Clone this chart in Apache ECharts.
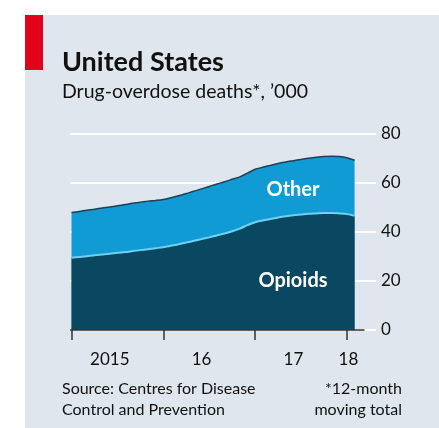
<!DOCTYPE html>
<html>
<head>
<meta charset="utf-8">
<title>United States drug-overdose deaths</title>
<script src="https://cdn.jsdelivr.net/npm/echarts@6/dist/echarts.min.js"></script>
<style>
  html, body { margin: 0; padding: 0; background: #ffffff; }
  #chart { width: 439px; height: 428px; }
</style>
</head>
<body>
<div id="chart"></div>
<script>
// months counted from Jan 2015 (0) to Feb 2018 (37), 12-month moving totals, '000
const months = [
  0, 1, 2, 3, 4, 5, 6, 7, 8, 9, 10, 11,
  12, 13, 14, 15, 16, 17, 18, 19, 20, 21, 22, 23,
  24, 25, 26, 27, 28, 29, 30, 31, 32, 33, 34, 35,
  36, 37
]
const opioids = [
  29.5, 29.8, 30.1, 30.5, 30.8, 31.1, 31.5, 31.8, 32.2, 32.6, 33.0, 33.4,
  33.8, 34.4, 35.0, 35.7, 36.4, 37.1, 37.8, 38.6, 39.4, 40.3, 41.4, 42.8,
  44.0, 44.7, 45.3, 45.9, 46.4, 46.8, 47.1, 47.4, 47.6, 47.8, 47.8, 47.6,
  47.3, 46.6
]
const other = [
  18.5, 18.6, 18.8, 18.8, 19.0, 19.1, 19.2, 19.4, 19.5, 19.5, 19.6, 19.5,
  19.5, 19.6, 19.8, 20.0, 20.2, 20.5, 20.8, 21.0, 21.1, 21.2, 21.1, 21.2,
  21.6, 21.7, 21.9, 22.1, 22.2, 22.3, 22.5, 22.7, 22.9, 23.0, 23.1, 23.2,
  23.0, 22.7
]
const yearTicks = [0, 12, 24, 36]
const yearLabelPos = [5, 17, 29, 36.2]
const yearLabels = ['2015', '16', '17', '18']

const font = 'Lato, "DejaVu Sans", sans-serif'
const chart = echarts.init(document.getElementById('chart'))

// "Other" sits on top of opioids: its upper edge is the sum of both
const opioidPairs = opioids.map((v, i) => [months[i], v])
const totalPairs = other.map((v, i) => [months[i], +(v + opioids[i]).toFixed(1)])

const option = {
  animation: false,
  backgroundColor: '#ffffff',
  textStyle: { fontFamily: font },
  graphic: [
    { type: 'rect', z: -10, shape: { x: 25, y: 15, width: 414, height: 413 }, style: { fill: '#dfe6ed' } },
    { type: 'rect', shape: { x: 25, y: 15, width: 18, height: 55 }, style: { fill: '#e3001b' } },
    { type: 'text', left: 62, top: 49, style: { text: 'United States', font: 'bold 27px ' + font, fill: '#111' } },
    { type: 'text', left: 62, top: 82, style: { text: 'Drug-overdose deaths*, \u2019000', font: '19.5px ' + font, fill: '#111' } },
    { type: 'text', x: 293, y: 190, z: 10, style: { text: 'Other', font: 'bold 20px ' + font, fill: '#ffffff', align: 'center', verticalAlign: 'middle' } },
    { type: 'text', x: 293, y: 281, z: 10, style: { text: 'Opioids', font: 'bold 20px ' + font, fill: '#ffffff', align: 'center', verticalAlign: 'middle' } },
    { type: 'text', left: 62, top: 378, style: { text: 'Source: Centres for Disease\nControl and Prevention', font: '16px ' + font, lineHeight: 21, fill: '#111' } },
    { type: 'text', x: 402, y: 378, style: { text: '*12-month\nmoving total', font: '16px ' + font, lineHeight: 21, fill: '#111', align: 'right' } }
  ],
  grid: { left: 70, right: 63, top: 134, bottom: 98 },
  xAxis: {
    type: 'value',
    min: -0.2,
    max: 39.8,
    axisLine: { show: false },
    splitLine: { show: false },
    axisTick: {
      show: true,
      customValues: yearTicks,
      length: 10,
      lineStyle: { color: '#333', width: 1.5 }
    },
    axisLabel: {
      customValues: yearLabelPos,
      formatter: (v) => yearLabels[yearLabelPos.indexOf(v)] || '',
      color: '#111',
      fontSize: 17,
      margin: 21
    }
  },
  yAxis: {
    type: 'value',
    position: 'right',
    min: 0,
    max: 80,
    interval: 20,
    axisLine: { show: false },
    axisTick: { show: false },
    splitLine: { lineStyle: { color: '#ffffff', width: 2 } },
    axisLabel: { color: '#111', fontSize: 17, margin: 5 }
  },
  series: [
    {
      name: 'Other',
      type: 'line',
      data: totalPairs,
      smooth: 0.3,
      symbol: 'none',
      lineStyle: { color: '#1f3f55', width: 1.5 },
      areaStyle: { color: '#119bd4', opacity: 1 },
      z: 2
    },
    {
      name: 'Opioids',
      type: 'line',
      data: opioidPairs,
      smooth: 0.3,
      symbol: 'none',
      lineStyle: { color: '#6fd0ef', width: 2 },
      areaStyle: { color: '#0a4862', opacity: 1 },
      z: 3,
      markLine: {
        silent: true,
        symbol: 'none',
        label: { show: false },
        lineStyle: { color: '#333', width: 1.5, type: 'solid' },
        data: [[{ coord: [-0.2, 0] }, { coord: [38.3, 0] }]]
      }
    }
  ]
}

chart.setOption(option)
window.addEventListener('resize', () => chart.resize())
</script>
</body>
</html>
